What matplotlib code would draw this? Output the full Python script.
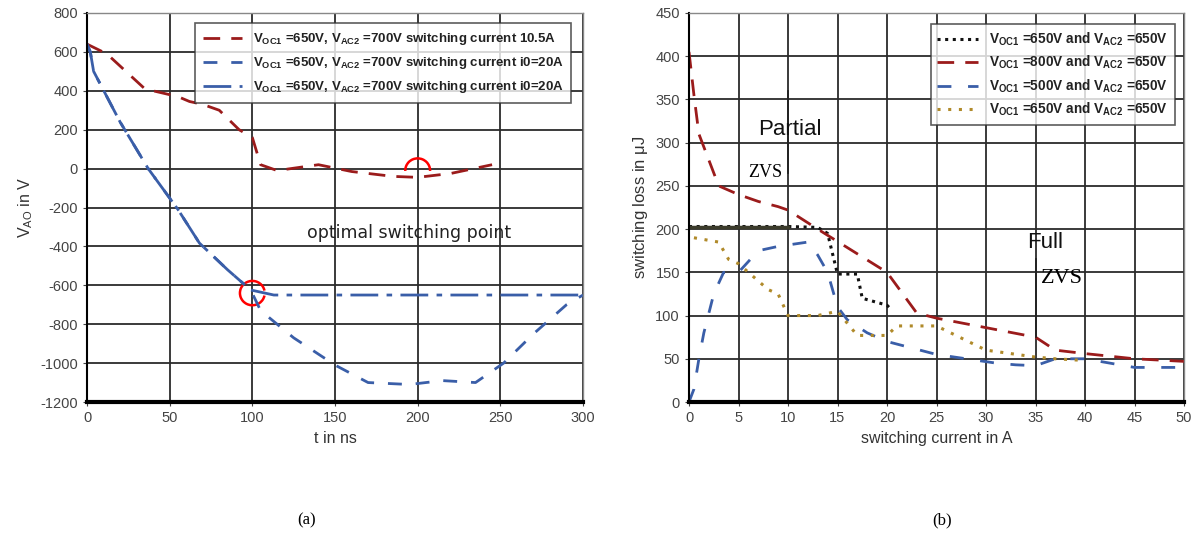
import numpy as np
import matplotlib
matplotlib.use("Agg")
import matplotlib.pyplot as plt
from matplotlib.patches import Arc

plt.rcParams["font.family"] = ["Liberation Sans", "DejaVu Sans"]
plt.rcParams["mathtext.fontset"] = "custom"
plt.rcParams["mathtext.rm"] = "Liberation Sans"
plt.rcParams["mathtext.it"] = "Liberation Sans:italic"
plt.rcParams["mathtext.bf"] = "Liberation Sans:bold"
plt.rcParams["mathtext.default"] = "regular"
plt.rcParams["axes.unicode_minus"] = False

# ---------- (a) VAO over time ----------
t_red = [0, 12, 35, 45, 55, 62, 70, 80, 92, 100, 105, 115, 140, 160, 185, 200, 220, 245]
v_red = [640, 590, 410, 390, 370, 345, 330, 300, 200, 160, 20, -10, 20, -15, -40, -45, -25, 20]

t_blue = [0, 2, 4, 20, 37, 55, 68, 85, 99, 105, 125, 150, 170, 195, 215, 235, 252, 270, 290, 300]
v_blue = [640, 600, 500, 240, 0, -210, -383, -520, -624, -730, -870, -1010, -1100, -1110, -1090, -1100, -1000, -850, -700, -650]

t_blue2 = [0, 2, 4, 20, 37, 55, 68, 85, 99, 113, 150, 200, 250, 298]
v_blue2 = [640, 600, 500, 240, 0, -210, -383, -520, -624, -650, -650, -650, -650, -650]

legend_a = [r"$V_{OC1}$ =650V, $V_{AC2}$ =700V switching current 10.5A",
            r"$V_{OC1}$ =650V, $V_{AC2}$ =700V switching current i0=20A",
            r"$V_{OC1}$ =650V, $V_{AC2}$ =700V switching current i0=20A"]

# ---------- (b) switching loss over current ----------
i_black = [0, 5, 10, 13, 14, 15, 17, 17.5, 20, 20.5]
e_black = [203, 203, 203, 202, 195, 148, 148, 120, 112, 106]

i_red = [0, 0.5, 1, 3, 5, 7, 9, 10, 13, 20, 23, 25, 35, 37, 40, 45, 50]
e_red = [405, 355, 310, 250, 240, 232, 226, 222, 200, 150, 103, 97, 75, 60, 56, 50, 47]

i_blue = [0, 0.5, 1, 1.5, 2.5, 3.5, 5, 7, 9, 12, 13, 14, 15, 16, 18, 20, 25, 31, 33, 35, 37, 40, 45, 50]
e_blue = [0, 15, 50, 80, 125, 150, 150, 175, 180, 185, 170, 150, 110, 95, 80, 70, 55, 45, 43, 42, 50, 50, 40, 40]

i_gold = [0.5, 3, 4, 5, 6, 8, 9, 10, 12, 13, 15, 17, 20, 21, 25, 30, 35, 37, 40]
e_gold = [190, 185, 165, 160, 150, 130, 125, 100, 100, 100, 105, 77, 77, 88, 88, 60, 52, 50, 48]

legend_b = [r"$V_{OC1}$ =650V and $V_{AC2}$ =650V",
            r"$V_{OC1}$ =800V and $V_{AC2}$ =650V",
            r"$V_{OC1}$ =500V and $V_{AC2}$ =650V",
            r"$V_{OC1}$ =650V and $V_{AC2}$ =650V"]

RED = "#9b1b1b"
BLUE = "#3a5ea8"
GOLD = "#b08a2a"
GRID = "#2b2b2b"

fig = plt.figure(figsize=(11.99, 5.37), dpi=100)
W, H = 1199, 537


def box(x0, y0, x1, y1):
    return [x0 / W, 1 - y1 / H, (x1 - x0) / W, (y1 - y0) / H]


def style_axes(ax):
    ax.grid(True, color=GRID, linewidth=1.3)
    ax.set_axisbelow(True)
    for s in ["top", "right"]:
        ax.spines[s].set_color("#888888")
        ax.spines[s].set_linewidth(1.0)
    ax.spines["left"].set_linewidth(1.5)
    ax.spines["bottom"].set_linewidth(3)
    ax.tick_params(labelsize=10.5, colors="#444444", length=3)


# (a)
ax1 = fig.add_axes(box(87, 13, 583, 402))
ax1.plot(t_red, v_red, color=RED, lw=2, ls=(0, (6, 4)), label=legend_a[0])
ax1.plot(t_blue, v_blue, color=BLUE, lw=2, ls=(0, (5, 5)), label=legend_a[1])
ax1.plot(t_blue2, v_blue2, color=BLUE, lw=2, ls=(0, (10, 3, 2, 3)), label=legend_a[2])
ax1.add_patch(Arc((200, -10), 15, 125, theta1=-15, theta2=195, color="red", lw=1.8))
ax1.add_patch(Arc((100, -640), 15, 125, theta1=60, theta2=300, color="red", lw=1.8))
ax1.text(195, -330, "optimal switching point", fontsize=12.5, ha="center", va="center",
         family="DejaVu Sans", color="#222222")
ax1.set_xlim(0, 300)
ax1.set_ylim(-1200, 800)
ax1.set_xticks(np.arange(0, 301, 50))
ax1.set_yticks(np.arange(-1200, 801, 200))
style_axes(ax1)
ax1.set_xlabel("t in ns", fontsize=11.5, color="#333333")
ax1.set_ylabel(r"$V_{AO}$ in V", fontsize=11.5, color="#333333")
leg = ax1.legend(loc="upper right", bbox_to_anchor=(0.99, 0.99), fontsize=9.5,
                 frameon=True, fancybox=False, edgecolor="#333333", handlelength=3,
                 borderpad=0.6, labelspacing=0.6)
leg.get_frame().set_linewidth(1.2)
for txt in leg.get_texts():
    txt.set_fontweight("bold")
    txt.set_color("#222222")

# (b)
ax2 = fig.add_axes(box(689, 13, 1184, 402))
ax2.plot(i_black, e_black, color="#111111", lw=2.2, ls=(0, (1, 1.5)), label=legend_b[0])
ax2.plot(i_red, e_red, color=RED, lw=2, ls=(0, (6, 4)), label=legend_b[1])
ax2.plot(i_blue, e_blue, color=BLUE, lw=2, ls=(0, (5, 6)), label=legend_b[2])
ax2.plot(i_gold, e_gold, color=GOLD, lw=2.2, ls=(0, (1, 2.5)), label=legend_b[3])
ax2.plot([0, 10], [203, 203], color="#3b3b2b", lw=2.5)
ax2.plot([10, 10], [265, 360], color="#222222", lw=1.3)
ax2.plot([35, 35], [75, 165], color="#222222", lw=1.3)
ax2.text(10.2, 315, "Partial", fontsize=16, ha="center", va="center", color="#111111")
ax2.text(7.7, 265, "ZVS", fontsize=13, ha="center", va="center", family="Liberation Serif")
ax2.text(36, 184, "Full", fontsize=16, ha="center", va="center", color="#111111")
ax2.text(37.7, 143, "ZVS", fontsize=16, ha="center", va="center", family="Liberation Serif")
ax2.set_xlim(0, 50)
ax2.set_ylim(0, 450)
ax2.set_xticks(np.arange(0, 51, 5))
ax2.set_yticks(np.arange(0, 451, 50))
style_axes(ax2)
ax2.set_xlabel("switching current in A", fontsize=11.5, color="#333333")
ax2.set_ylabel(r"switching loss in $\mu$J", fontsize=12, color="#333333")
leg2 = ax2.legend(loc="upper right", bbox_to_anchor=(0.995, 0.99), fontsize=9.8,
                  frameon=True, fancybox=False, edgecolor="#333333", handlelength=3,
                  borderpad=0.5, labelspacing=0.45)
leg2.get_frame().set_linewidth(1.2)
for txt in leg2.get_texts():
    txt.set_fontweight("bold")
    txt.set_color("#222222")

fig.text(307 / W, 1 - 520 / H, "(a)", fontsize=12, family="Liberation Serif", ha="center", va="center")
fig.text(942 / W, 1 - 520 / H, "(b)", fontsize=12, family="Liberation Serif", ha="center", va="center")

fig.savefig("out.png", dpi=100)
